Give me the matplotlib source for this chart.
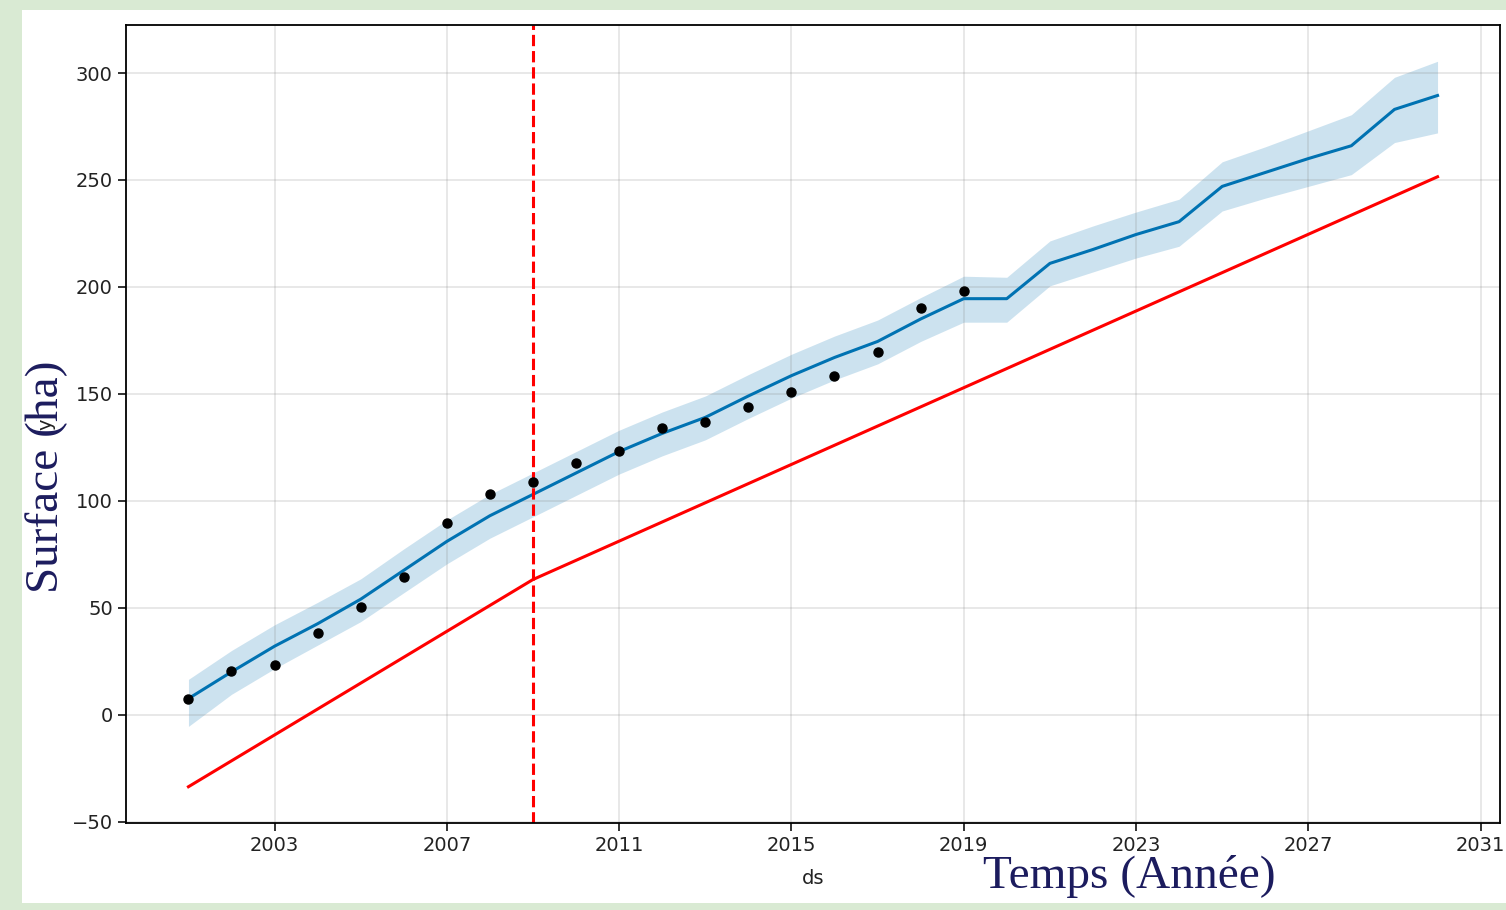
import datetime as dt
import matplotlib
matplotlib.use("Agg")
import matplotlib.pyplot as plt
import matplotlib.dates as mdates
from matplotlib.patches import Rectangle
from matplotlib.ticker import FixedLocator

# Observed surface (ha), one value per year
obs_years = list(range(2001, 2020))
obs_values = [7.5, 20.5, 23.0, 38.0, 50.5, 64.5, 89.5, 103.0, 109.0, 117.5,
              123.5, 134.0, 137.0, 144.0, 151.0, 158.5, 169.5, 190.0, 198.0]

# Forecast (fitted + projected) with uncertainty band
fc_years = list(range(2001, 2031))
yhat = [7.5, 20.0, 32.0, 42.5, 54.0, 67.5, 81.0, 93.0, 103.0, 113.0,
        123.0, 131.5, 139.0, 149.0, 158.5, 167.0, 174.5, 185.0, 194.5, 194.5,
        211.0, 217.5, 224.5, 230.5, 247.0, 253.5, 260.0, 266.0, 283.0, 289.5]
yhat_upper = [16.5, 30.0, 42.0, 52.5, 63.5, 77.5, 91.0, 103.0, 113.0, 123.0,
              133.0, 141.5, 149.0, 159.0, 168.5, 177.0, 184.5, 195.0, 205.0, 204.5,
              221.5, 228.5, 235.0, 241.0, 258.5, 265.5, 273.0, 280.5, 298.0, 305.5]
yhat_lower = [-5.5, 9.5, 21.5, 32.5, 43.5, 57.0, 70.5, 82.5, 92.5, 102.5,
              112.5, 121.0, 128.5, 138.5, 148.0, 156.5, 164.0, 174.5, 183.5, 183.5,
              200.5, 207.0, 213.5, 219.0, 235.5, 241.5, 247.0, 252.5, 267.5, 272.0]

# Piecewise-linear trend and its changepoint
trend_years = [2001, 2009, 2030]
trend_values = [-33.7, 63.2, 251.5]
changepoint_year = 2009

tick_years = [2003, 2007, 2011, 2015, 2019, 2023, 2027, 2031]
ytick_values = [-50, 0, 50, 100, 150, 200, 250, 300]


def to_dates(years):
    return [dt.datetime(y, 1, 1) for y in years]


W, H = 1506, 910
fig = plt.figure(figsize=(W / 100, H / 100), dpi=100)
fig.patch.set_facecolor("#d9ead3")
fig.patches.append(Rectangle((22 / W, 7 / H), 1 - 22 / W, (903 - 10) / H,
                             transform=fig.transFigure, facecolor="white",
                             edgecolor="none", zorder=-10))

ax = fig.add_axes([126 / W, (H - 823) / H, (1500 - 126) / W, (823 - 25) / H])
ax.set_facecolor("white")

blue = "#0072B2"
ax.plot(to_dates(obs_years), obs_values, "k.", markersize=13, zorder=3)
ax.plot(to_dates(fc_years), yhat, ls="-", c=blue, lw=2.2, zorder=2)
ax.fill_between(to_dates(fc_years), yhat_lower, yhat_upper, color=blue,
                alpha=0.2, lw=0)
ax.plot(to_dates(trend_years), trend_values, c="r", lw=2.2)
ax.axvline(dt.datetime(changepoint_year, 1, 1), c="r", ls="--", lw=2.2)

ax.grid(True, which="major", c="gray", ls="-", lw=1.3, alpha=0.2)
ax.xaxis.set_major_locator(FixedLocator(mdates.date2num(to_dates(tick_years))))
ax.xaxis.set_major_formatter(mdates.DateFormatter("%Y"))
ax.set_yticks(ytick_values)
ax.tick_params(labelsize=14, length=6, width=1.3, colors="#222222")
for s in ax.spines.values():
    s.set_linewidth(1.3)

ax.set_xlabel("ds", fontsize=14, color="#222222", labelpad=10)
ax.set_ylabel("y", fontsize=14, color="#222222", labelpad=12)

serif = ["Liberation Serif", "DejaVu Serif"]
navy = "#1c1c5e"
fig.text(47 / W, 1 - 477 / H, "Surface (ha)", rotation=90, ha="center",
         va="center", fontsize=34, family=serif, color=navy)
fig.text(1129 / W, 1 - 877 / H, "Temps (Année)", ha="center", va="center",
         fontsize=34, family=serif, color=navy)

fig.savefig("out.png", dpi=100, facecolor=fig.get_facecolor())
